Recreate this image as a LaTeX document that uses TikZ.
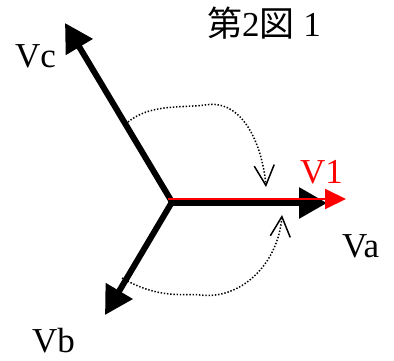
\documentclass[tikz,border=0pt]{standalone}
\usepackage{fontspec}
\setmainfont{Liberation Serif}
\newfontfamily\cjk{Noto Sans CJK JP}
\usetikzlibrary{arrows.meta}
\begin{document}
\begin{tikzpicture}[x=1pt,y=-1pt,
  phasor/.style={line width=6pt,-{Triangle[length=28pt,width=30pt]}},
  redphasor/.style={red,line width=2pt,-{Triangle[length=21pt,width=20pt]}},
  rot/.style={line width=1.5pt,dash pattern=on 1.4pt off 1.8pt,
    -{Straight Barb[length=20pt,width=20pt,line width=1.5pt]}},
  lbl/.style={anchor=base west,inner sep=0pt,font=\fontsize{35}{40}\selectfont}]
\useasboundingbox (0,0) rectangle (394,360);
\coordinate (O) at (172,202);
\coordinate (Oa) at (168,203);
\coordinate (A) at (327,203);
\coordinate (C) at (65,23);
\coordinate (B) at (105,315);
\coordinate (Or) at (168,199);
\coordinate (R) at (346,199);
\draw[phasor] (Oa) -- (A);
\draw[phasor] (O) -- (C);
\draw[phasor] (O) -- (B);
\draw[redphasor] (Or) -- (R);
\coordinate (c1s) at (128,122);
\coordinate (c1m) at (205,105);
\coordinate (c1e) at (266,187);
\coordinate (c2s) at (122,278);
\coordinate (c2m) at (200,295);
\coordinate (c2e) at (282,215);
\draw[rot] (c1s) .. controls (150,104) and (180,108) .. (c1m) .. controls (245,98) and (263,150) .. (c1e);
\draw[rot] (c2s) .. controls (160,300) and (185,293) .. (c2m) .. controls (240,300) and (278,265) .. (c2e);
\node[lbl] (lc) at (15,67) {Vc};
\node[lbl] (lb) at (32,352) {Vb};
\node[lbl] (la) at (342,257) {Va};
\node[lbl,text=red] (l1) at (300,183) {V1};
\node[lbl] (title) at (207,36) {{\cjk 第}2{\cjk 図} 1};
\end{tikzpicture}
\end{document}
